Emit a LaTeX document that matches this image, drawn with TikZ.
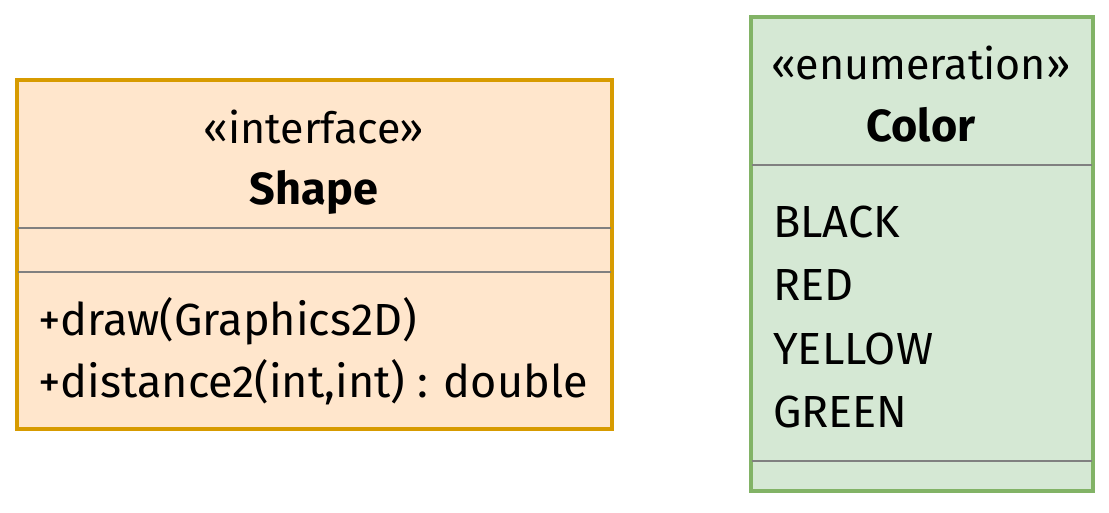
\documentclass[tikz,border=0pt]{standalone}
\usepackage{fontspec}
\setmainfont{Fira Sans}
\begin{document}
\begin{tikzpicture}[x=1pt,y=-1pt,
  txt/.style={inner sep=0pt,font=\fontsize{45}{50}\selectfont},
  ster/.style={txt,font=\fontsize{43}{50}\selectfont},
  title/.style={txt,font=\fontsize{45}{50}\selectfont\bfseries},
  sep/.style={draw=black!50,line width=1.5pt},
  ifacebox/.style={draw=ifaceline,fill=ifacefill,line width=3.5pt},
  enumbox/.style={draw=enumline,fill=enumfill,line width=3.5pt}]
\definecolor{ifaceline}{HTML}{D79B00}
\definecolor{ifacefill}{HTML}{FFE6CC}
\definecolor{enumline}{HTML}{82B366}
\definecolor{enumfill}{HTML}{D5E8D4}
\useasboundingbox[fill=white] (0,0) rectangle (1109,513);
% interface Shape
\draw[ifacebox] (17,80) rectangle (612,429);
\coordinate (s1l) at (18,228); \coordinate (s1r) at (611,228);
\coordinate (s2l) at (18,272); \coordinate (s2r) at (611,272);
\draw[sep] (s1l) -- (s1r);
\draw[sep] (s2l) -- (s2r);
\node[ster,anchor=base] (ster) at (314,144) {«interface»};
\node[title,anchor=base] (sname) at (314,205) {Shape};
\node[txt,anchor=base west] (m1) at (38,335) {+draw(Graphics2D)};
\node[txt,anchor=base west] (m2) at (38,397) {+distance2(int,int) : double};
% enumeration Color
\draw[enumbox] (751,17) rectangle (1093,491);
\coordinate (c1l) at (752,165); \coordinate (c1r) at (1092,165);
\coordinate (c2l) at (752,461); \coordinate (c2r) at (1092,461);
\draw[sep] (c1l) -- (c1r);
\draw[sep] (c2l) -- (c2r);
\node[ster,anchor=base] (cster) at (921,80) {«enumeration»};
\node[title,anchor=base] (cname) at (921,142) {Color};
\node[txt,anchor=base west] (v1) at (773,238) {BLACK};
\node[txt,anchor=base west] (v2) at (773,301) {RED};
\node[txt,anchor=base west] (v3) at (773,364) {YELLOW};
\node[txt,anchor=base west] (v4) at (773,427) {GREEN};
\end{tikzpicture}
\end{document}
